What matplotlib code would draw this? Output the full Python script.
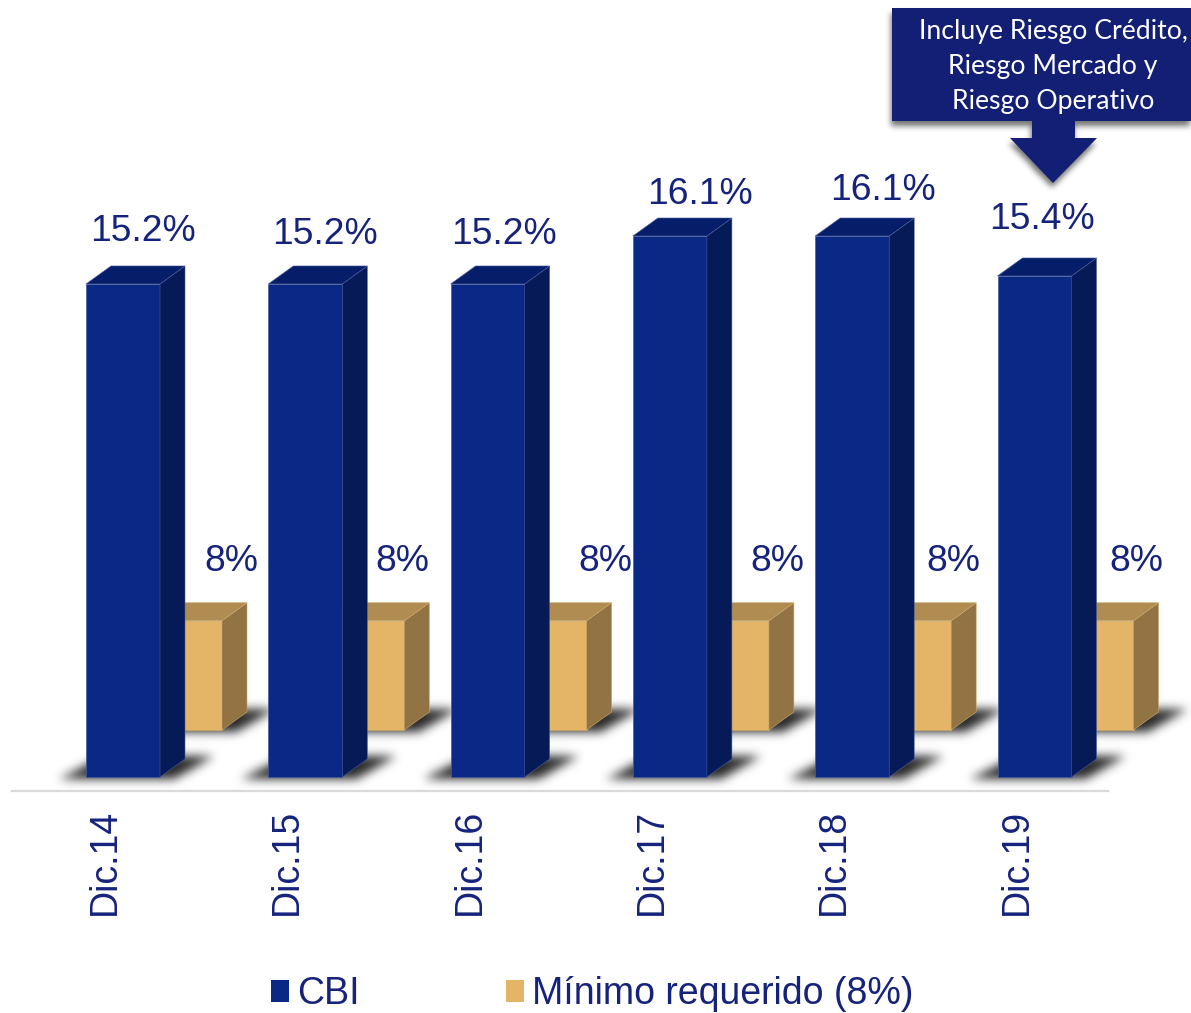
import matplotlib
matplotlib.use('Agg')
import matplotlib.pyplot as plt
import numpy as np
from matplotlib.patches import Polygon, Patch
from matplotlib.path import Path
from matplotlib.transforms import Affine2D

# datos
fechas = ['Dic.14', 'Dic.15', 'Dic.16', 'Dic.17', 'Dic.18', 'Dic.19']
cbi = [15.2, 15.2, 15.2, 16.1, 16.1, 15.35]
cbi_etiquetas = ['15.2%', '15.2%', '15.2%', '16.1%', '16.1%', '15.4%']
minimo = [8, 8, 8, 8, 8, 8]
minimo_etiquetas = ['8%', '8%', '8%', '8%', '8%', '8%']

# ajustes de las etiquetas respecto a cada barra, en pixeles
cbi_dx = [20, 20, 16, 30, 31, 8]
cbi_dy = [52, 49, 49, 42, 46, 56]
min_dx = [46, 35, 56, 45, 39, 40]
min_dy = 59

W, H = 1191, 1013
AZUL = '#0A2885'
AZUL_LADO = '#051A56'
AZUL_TOPE = '#061E6A'
ORO = '#E4B566'
ORO_LADO = '#927343'
ORO_TOPE = '#B08C53'
TEXTO = '#16237C'
CAJA = '#131F75'

plt.rcParams['font.family'] = ['Liberation Sans', 'DejaVu Sans']

fig = plt.figure(figsize=(W / 100, H / 100), dpi=100)
ax = fig.add_axes([12 / W, (H - 791) / H, (1108 - 12) / W, 791 / H])

# escala: 182.3 px por categoria, 53.3 px por punto porcentual
esc_x, esc_y = 182.3, 53.3
piso = 5.95
ax.set_xlim((12 - 123) / esc_x, (1108 - 123) / esc_x)
ax.set_ylim(piso - 14 / esc_y, piso + 777 / esc_y)

ancho = 74 / esc_x
prof_x, prof_y = 25 / esc_x, 18 / esc_y
sep_oro = 62 / esc_x
sube_oro = 47 / esc_y

# capa de sombras, en pixeles de la imagen
yy, xx = np.mgrid[0:H, 0:W]
puntos = np.column_stack([xx.ravel() + 0.5, H - yy.ravel() - 0.5])


def difuminar(capa, sigma):
    r = int(3 * sigma)
    nucleo = np.exp(-0.5 * (np.arange(-r, r + 1) / sigma) ** 2)
    nucleo /= nucleo.sum()
    capa = np.apply_along_axis(lambda f: np.convolve(f, nucleo, mode='same'), 0, capa)
    return np.apply_along_axis(lambda f: np.convolve(f, nucleo, mode='same'), 1, capa)


def sombra_barra(x, base):
    # paralelogramo bajo la barra, pasado a pixeles por la escala del eje
    izq = x - ancho / 2
    pts = [(-27, -2), (88, -2), (128, 21), (18, 21)]
    pts = [(izq + a / esc_x, base + b / esc_y) for a, b in pts]
    forma = Path(ax.transData.transform(pts))
    return forma.contains_points(puntos).reshape(H, W)


def barra(x, abajo, tope, color, lado, cara_sup, borde, z):
    # cara frontal con bar, lado y tapa como poligonos
    ax.bar(x, tope - abajo, width=ancho, bottom=abajo, color=color, edgecolor=borde,
           linewidth=0.5, zorder=z, clip_on=False)
    der = x + ancho / 2
    izq = x - ancho / 2
    ax.add_patch(Polygon([(der, abajo), (der + prof_x, abajo + prof_y), (der + prof_x, tope + prof_y), (der, tope)],
                         closed=True, fc=lado, ec=borde, lw=0.4, zorder=z, clip_on=False))
    ax.add_patch(Polygon([(izq, tope), (der, tope), (der + prof_x, tope + prof_y), (izq + prof_x, tope + prof_y)],
                         closed=True, fc=cara_sup, ec=borde, lw=0.4, zorder=z, clip_on=False))


mascara = np.zeros((H, W), dtype=bool)
for i in range(len(fechas)):
    x_oro = i + sep_oro
    mascara |= sombra_barra(x_oro, piso + sube_oro)
    mascara |= sombra_barra(i, piso)
    barra(x_oro, piso + sube_oro, minimo[i] + sube_oro, ORO, ORO_LADO, ORO_TOPE, '#CDA765', 2)
    barra(i, piso, cbi[i], AZUL, AZUL_LADO, AZUL_TOPE, '#4A5B9C', 4)

    ax.annotate(cbi_etiquetas[i], (i, cbi[i]), xytext=(cbi_dx[i], cbi_dy[i]), textcoords='offset pixels',
                ha='center', va='center', fontsize=26.8, color=TEXTO, zorder=6)
    ax.annotate(minimo_etiquetas[i], (x_oro, minimo[i] + sube_oro), xytext=(min_dx[i], min_dy),
                textcoords='offset pixels', ha='center', va='center', fontsize=26.8, color=TEXTO, zorder=6)

# eje
ax.set_xticks([i - 18 / esc_x for i in range(len(fechas))])
ax.set_xticklabels(fechas, rotation=90, fontsize=27, color=TEXTO)
ax.tick_params(axis='x', length=0, pad=12.8)
ax.set_yticks([])
for lado in ['top', 'left', 'right']:
    ax.spines[lado].set_visible(False)
ax.spines['bottom'].set_color('#DADADA')
ax.spines['bottom'].set_linewidth(1.6)
ax.patch.set_alpha(0)

# leyenda
ley = ax.legend(handles=[Patch(fc=AZUL, ec='none', label='CBI'), Patch(fc=ORO, ec='none', label='Mínimo requerido (8%)')],
                loc='center', bbox_to_anchor=(592 / W, 1 - 994 / H), bbox_transform=fig.transFigure,
                ncol=2, frameon=False, fontsize=27, borderpad=0, handlelength=0.5, handleheight=0.53,
                handletextpad=0.2, columnspacing=3.9)
for t in ley.get_texts():
    t.set_color(TEXTO)

# recuadro con flecha, en pixeles de la imagen
px = Affine2D().scale(1, -1).translate(0, H)
caja = [(892, 8), (1191, 8), (1191, 121), (1075, 121), (1075, 138), (1097, 138),
        (1053, 183), (1010, 138), (1032, 138), (1032, 121), (892, 121)]
fig.add_artist(Polygon(caja, closed=True, fc=CAJA, ec='none', transform=px))
for linea, y in zip(['Incluye Riesgo Crédito,', 'Riesgo Mercado y', 'Riesgo Operativo'], [31, 66, 101]):
    fig.text(1053, y, linea, transform=px, ha='center', va='center', fontsize=19.2, color='white',
             family=['Lato', 'DejaVu Sans'])

# sombras debajo de todo
forma_caja = Path(px.transform([(a - 1, b + 5) for a, b in caja]))
mascara_caja = forma_caja.contains_points(puntos).reshape(H, W)
alfa = np.maximum(difuminar(mascara.astype(float), 5.0) * 0.85,
                  difuminar(mascara_caja.astype(float), 3.0) * 0.55)
capa = np.zeros((H, W, 4))
capa[..., 3] = alfa
fig.figimage(capa, 0, 0, origin='upper', zorder=-1)

fig.savefig('out.png', dpi=100)
